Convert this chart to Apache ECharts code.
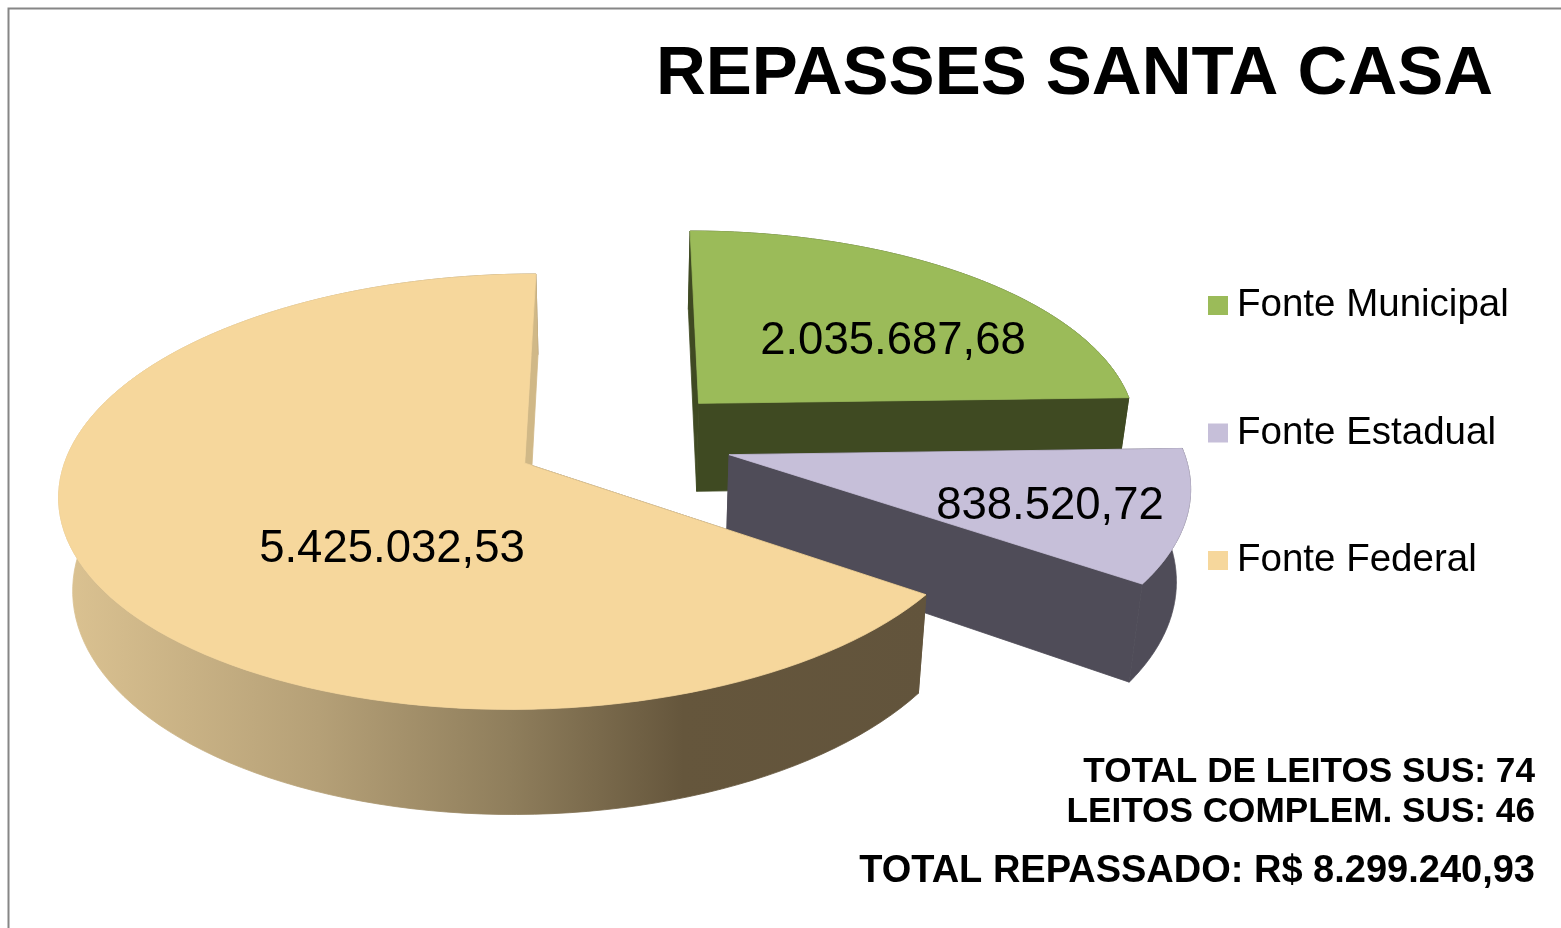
<!DOCTYPE html>
<html>
<head>
<meta charset="utf-8">
<title>Repasses Santa Casa</title>
<script src="https://cdn.jsdelivr.net/npm/echarts@6/dist/echarts.min.js"></script>
<style>
html, body { margin: 0; padding: 0; background: #fff; }
#chart { width: 1561px; height: 928px; }
</style>
</head>
<body>
<div id="chart"></div>
<script>
// dados
var fontes = ['Fonte Municipal', 'Fonte Estadual', 'Fonte Federal'];
var valores = [2035687.68, 838520.72, 5425032.53];
var rotulos = ['2.035.687,68', '838.520,72', '5.425.032,53'];
var notas = ['TOTAL DE LEITOS SUS: 74', 'LEITOS COMPLEM. SUS: 46', 'TOTAL REPASSADO: R$ 8.299.240,93'];

// cores
var coresTopo = ['#9bbb59', '#c6bfd9', '#f6d79c'];
var coresParede = ['#3f4a22', '#4f4c58', '#62543c'];

// projecao da pizza (perspectiva)
var cx = 621, cy = 440, raioX = 456, raioY = 209, persp = 0.13;
var altura = 90, fuga = 0.025;
var explode = [0.25, 0.245, 0.235];
var raioFatia = [0.97, 0.99, 0.995];
var posRotulo = [[893, 341], [1050, 506], [392, 549]];

var total = valores.reduce(function (a, b) { return a + b; }, 0);

function projeta(px, py, z) {
    var s = 1 / (1 - persp * py);
    return [
        cx + raioX * px * s * (1 - fuga * z),
        cy + raioY * py * s + altura * s * z
    ];
}

function renderFatia(params, api) {
    var i = params.seriesIndex;
    var ini = 0;
    for (var k = 0; k < i; k++) ini += valores[k];
    var a0 = echarts.number.linearMap(ini, [0, total], [0, Math.PI * 2]);
    var a1 = echarts.number.linearMap(ini + api.value(0), [0, total], [0, Math.PI * 2]);
    var meio = (a0 + a1) / 2;
    var ox = explode[i] * Math.sin(meio), oy = -explode[i] * Math.cos(meio);
    var r = raioFatia[i];

    var arcoTopo = [], arcoBase = [];
    var n = 120;
    for (var j = 0; j <= n; j++) {
        var a = a0 + (a1 - a0) * j / n;
        var px = ox + r * Math.sin(a), py = oy - r * Math.cos(a);
        arcoTopo.push(projeta(px, py, 0));
        arcoBase.push(projeta(px, py, 1));
    }
    var apexT = projeta(ox, oy, 0), apexB = projeta(ox, oy, 1);

    var corParede = coresParede[i];
    var corFinal = coresParede[i];
    if (i === 2) {
        // gradiente da parede externa da fatia federal
        corParede = new echarts.graphic.LinearGradient(0, 0, 1, 0, [
            { offset: 0, color: '#dcc392' },
            { offset: 0.3, color: '#b5a077' },
            { offset: 0.52, color: '#8f7e5c' },
            { offset: 0.72, color: '#65563c' },
            { offset: 1, color: '#62543c' }
        ]);
        corFinal = '#d0b887';
    }

    function poli(pts, fill) {
        return { type: 'polygon', shape: { points: pts }, style: { fill: fill, stroke: fill, lineWidth: 0.8 } };
    }

    var filhos = [
        poli([apexT, arcoTopo[0], arcoBase[0], apexB], coresParede[i]),
        poli(arcoTopo.concat(arcoBase.slice().reverse()), corParede),
        poli([apexT, arcoTopo[n], arcoBase[n], apexB], corFinal),
        poli([apexT].concat(arcoTopo), coresTopo[i]),
        {
            type: 'text',
            style: {
                x: posRotulo[i][0], y: posRotulo[i][1], text: rotulos[i],
                fill: '#000', font: '45.5px "Liberation Sans", Arial, sans-serif',
                align: 'center', verticalAlign: 'middle'
            }
        }
    ];
    return { type: 'group', children: filhos };
}

var fonteBase = '"Liberation Sans", Arial, sans-serif';
var myChart = echarts.init(document.getElementById('chart'));

var series = fontes.map(function (nome, i) {
    return {
        name: nome,
        type: 'custom',
        coordinateSystem: 'none',
        renderItem: renderFatia,
        itemStyle: { color: coresTopo[i] },
        silent: true,
        animation: false,
        z: 2 + i,
        data: [[valores[i]]]
    };
});

myChart.setOption({
    backgroundColor: '#fff',
    animation: false,
    title: {
        text: 'REPASSES SANTA CASA',
        left: 656,
        top: 40,
        padding: 0,
        textStyle: { fontFamily: fonteBase, fontWeight: 'bold', fontSize: 69, color: '#000' }
    },
    legend: {
        orient: 'vertical',
        left: 1208,
        top: 286,
        padding: 0,
        itemWidth: 20,
        itemHeight: 19,
        itemGap: 88.5,
        icon: 'rect',
        selectedMode: false,
        data: fontes,
        textStyle: { fontFamily: fonteBase, fontSize: 38.5, color: '#000', padding: [0, 0, 0, 4] }
    },
    graphic: [
        {
            type: 'rect', silent: true,
            shape: { x: 8.5, y: 8.5, width: 1700, height: 1100 },
            style: { fill: null, stroke: '#868686', lineWidth: 2 }
        },
        {
            type: 'text', silent: true,
            style: { x: 1535, y: 772, text: notas[0], fill: '#000', align: 'right', verticalAlign: 'middle', font: 'bold 35.2px ' + fonteBase }
        },
        {
            type: 'text', silent: true,
            style: { x: 1535, y: 812, text: notas[1], fill: '#000', align: 'right', verticalAlign: 'middle', font: 'bold 35.2px ' + fonteBase }
        },
        {
            type: 'text', silent: true,
            style: { x: 1535, y: 872, text: notas[2], fill: '#000', align: 'right', verticalAlign: 'middle', font: 'bold 38px ' + fonteBase }
        }
    ],
    series: series
});

window.onresize = function () { myChart.resize(); };
</script>
</body>
</html>
